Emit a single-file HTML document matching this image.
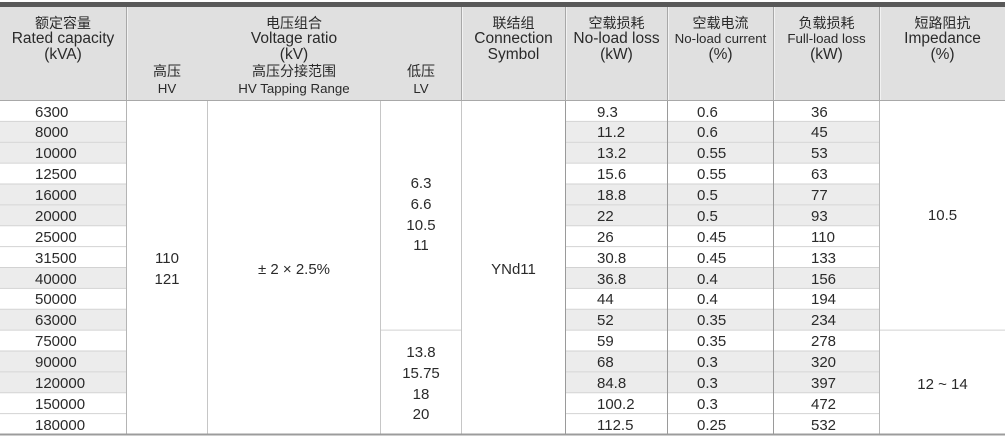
<!DOCTYPE html>
<html><head><meta charset="utf-8">
<style>
html,body{margin:0;padding:0;background:#fff;}
body{width:1005px;height:440px;position:relative;overflow:hidden;font-family:"Liberation Sans","Noto Sans CJK SC",sans-serif;color:#2a2a2a;}
.a{position:absolute;}
.bar{left:0;top:2px;width:1005px;height:5px;background:#595959;}
.hdr{left:0;top:7px;width:1005px;height:93px;background:#e0e0e0;}
.hl{top:100px;left:0;width:1005px;height:1px;background:#a8a8a8;}
.vh{top:7px;height:93px;width:1px;background:#a8a8a8;border-right:1px solid #f2f2f2;}
.hc{text-align:center;font-size:15.5px;line-height:16px;}
.hc .z{font-family:"Noto Sans CJK SC",sans-serif;font-size:14px;}
.sm{font-size:13.3px;}
.cell{height:21px;line-height:22px;font-size:15px;}
.t{font-size:15px;line-height:20.8px;text-align:center;}
</style></head><body>
<div class="a bar"></div>
<div class="a hdr"></div>

<div class="a vh" style="left:126px"></div>
<div class="a vh" style="left:461px"></div>
<div class="a vh" style="left:565px"></div>
<div class="a vh" style="left:667px"></div>
<div class="a vh" style="left:773px"></div>
<div class="a vh" style="left:879px"></div>

<div class="a hc" style="left:0;width:126px;top:15px"><div class="z">额定容量</div><div>Rated capacity</div><div>(kVA)</div></div>
<div class="a hc" style="left:127px;width:334px;top:15px"><div class="z">电压组合</div><div>Voltage ratio</div><div>(kV)</div></div>
<div class="a hc" style="left:127px;width:80px;top:63px;line-height:17px"><div class="z">高压</div><div class="sm">HV</div></div>
<div class="a hc" style="left:208px;width:172px;top:63px;line-height:17px"><div class="z">高压分接范围</div><div class="sm">HV Tapping Range</div></div>
<div class="a hc" style="left:381px;width:80px;top:63px;line-height:17px"><div class="z">低压</div><div class="sm">LV</div></div>
<div class="a hc" style="left:462px;width:103px;top:15px"><div class="z">联结组</div><div>Connection</div><div>Symbol</div></div>
<div class="a hc" style="left:566px;width:101px;top:15px"><div class="z">空载损耗</div><div>No-load loss</div><div>(kW)</div></div>
<div class="a hc" style="left:668px;width:105px;top:15px"><div class="z">空载电流</div><div class="sm">No-load current</div><div>(%)</div></div>
<div class="a hc" style="left:774px;width:105px;top:15px"><div class="z">负载损耗</div><div class="sm">Full-load loss</div><div>(kW)</div></div>
<div class="a hc" style="left:880px;width:125px;top:15px"><div class="z">短路阻抗</div><div>Impedance</div><div>(%)</div></div>

<div class="a hl"></div>

<svg class="a" style="left:0;top:0" width="1005" height="440">
<g id="rows"></g>
</svg>

<div id="body"></div>

<script>
(function(){
var cap=["6300","8000","10000","12500","16000","20000","25000","31500","40000","50000","63000","75000","90000","120000","150000","180000"];
var nl=["9.3","11.2","13.2","15.6","18.8","22","26","30.8","36.8","44","52","59","68","84.8","100.2","112.5"];
var nc=["0.6","0.6","0.55","0.55","0.5","0.5","0.45","0.45","0.4","0.4","0.35","0.35","0.3","0.3","0.3","0.25"];
var fl=["36","45","53","63","77","93","110","133","156","194","234","278","320","397","472","532"];
var gray=[0,1,1,0,1,1,0,0,1,0,1,0,1,1,0,0];
var h=20.875;
var s='';
for(var i=0;i<16;i++){
  var y=(100+i*h);
  if(gray[i]){
    s+='<rect x="0" y="'+(y+1)+'" width="126" height="'+(h-1)+'" fill="#ececec"/>';
    s+='<rect x="566" y="'+(y+1)+'" width="313" height="'+(h-1)+'" fill="#ececec"/>';
  }
  if(i>0){
    s+='<rect x="0" y="'+y+'" width="126" height="1" fill="#d2d2d2"/>';
    s+='<rect x="566" y="'+y+'" width="313" height="1" fill="#d2d2d2"/>';
  }
}
var ys=100+11*h;
s+='<rect x="381" y="'+ys+'" width="80" height="1" fill="#d2d2d2"/>';
s+='<rect x="880" y="'+ys+'" width="125" height="1" fill="#d2d2d2"/>';
var vl=[[126,"#b4b4b4"],[207,"#c6c6c6"],[380,"#c6c6c6"],[461,"#c6c6c6"],[565,"#9a9a9a"],[667,"#9a9a9a"],[773,"#9a9a9a"],[879,"#b8b8b8"]];
for(var k=0;k<vl.length;k++){
  s+='<rect x="'+vl[k][0]+'" y="101" width="1" height="333" fill="'+vl[k][1]+'"/>';
}
s+='<rect x="0" y="433.5" width="1005" height="2" fill="#9c9c9c"/>';
document.getElementById('rows').innerHTML=s;

var b='';
for(var i=0;i<16;i++){
  var y=(100+i*h+1.5);
  b+='<div class="a cell" style="left:35px;top:'+y+'px">'+cap[i]+'</div>';
  b+='<div class="a cell" style="left:597px;top:'+y+'px">'+nl[i]+'</div>';
  b+='<div class="a cell" style="left:697px;top:'+y+'px">'+nc[i]+'</div>';
  b+='<div class="a cell" style="left:811px;top:'+y+'px">'+fl[i]+'</div>';
}
document.getElementById('body').innerHTML=b;
})();
</script>

<div class="a t" style="left:127px;width:80px;top:249px">110<br>121</div>
<div class="a t" style="left:208px;width:172px;top:260px">± 2 × 2.5%</div>
<div class="a t" style="left:381px;width:80px;top:174px">6.3<br>6.6<br>10.5<br>11</div>
<div class="a t" style="left:381px;width:80px;top:343px">13.8<br>15.75<br>18<br>20</div>
<div class="a t" style="left:462px;width:103px;top:260px">YNd11</div>
<div class="a t" style="left:880px;width:125px;top:206px">10.5</div>
<div class="a t" style="left:880px;width:125px;top:375px">12 ~ 14</div>
</body></html>
